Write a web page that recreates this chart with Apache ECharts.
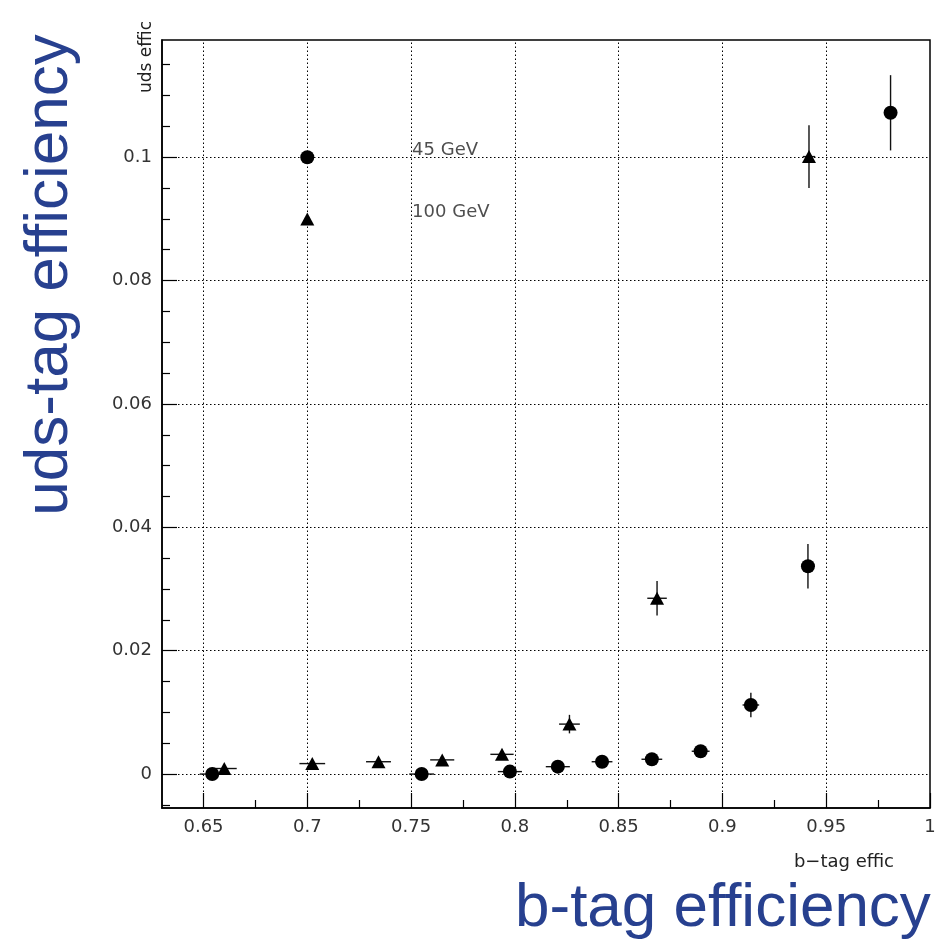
<!DOCTYPE html>
<html><head><meta charset="utf-8">
<script src="https://cdn.jsdelivr.net/npm/echarts@6/dist/echarts.min.js"></script>
<style>html,body{margin:0;padding:0;background:#fff}#c{width:943px;height:946px}</style>
</head><body><div id="c"></div>
<script>
// ---- axis ticks / grid ----
const xMajorTicks = [0.65, 0.7, 0.75, 0.8, 0.85, 0.9, 0.95, 1.0];
const xMinorTicks = [0.675, 0.725, 0.775, 0.825, 0.875, 0.925, 0.975];
const yMajorTicks = [0, 0.02, 0.04, 0.06, 0.08, 0.1];
const yMinorTicks = [-0.005, 0.005, 0.01, 0.015, 0.025, 0.03, 0.035, 0.045, 0.05, 0.055,
  0.065, 0.07, 0.075, 0.085, 0.09, 0.095, 0.105, 0.11, 0.115];
const xGridLines = [0.65, 0.7, 0.75, 0.8, 0.85, 0.9, 0.95];
const yGridLines = [0, 0.02, 0.04, 0.06, 0.08, 0.1];

// ---- 45 GeV (circles) ----
const circleX    = [0.6542, 0.7551, 0.7976, 0.8207, 0.8420, 0.8660, 0.8895, 0.9137, 0.9412, 0.9810];
const circleY    = [0.0000, 0.0000, 0.0004, 0.0012, 0.0020, 0.0024, 0.0037, 0.0112, 0.0337, 0.1072];
const circleXErr = [0.0060, 0.0060, 0.0058, 0.0058, 0.0050, 0.0050, 0.0043, 0.0040, 0.0030, 0.0030];
const circleYErr = [0.0002, 0.0002, 0.0003, 0.0004, 0.0005, 0.0006, 0.0008, 0.0020, 0.0036, 0.0061];

// ---- 100 GeV (triangles) ----
const triX    = [0.6600, 0.7024, 0.7343, 0.7650, 0.7938, 0.8263, 0.8685, 0.9417];
const triY    = [0.0009, 0.0017, 0.0020, 0.0023, 0.0032, 0.0081, 0.0285, 0.1001];
const triXErr = [0.0060, 0.0062, 0.0060, 0.0058, 0.0056, 0.0050, 0.0047, 0.0030];
const triYErr = [0.0003, 0.0004, 0.0004, 0.0005, 0.0006, 0.0015, 0.0028, 0.0051];

// ---- in-plot legend ----
const legendLabels = ['45 GeV', '100 GeV'];
const legendMarkerX = 0.7;
const legendMarkerY = [0.1, 0.09];
const legendTextX = 0.7505;
const legendTextY = [0.1011, 0.0910];

const xMin = 0.63, xMax = 1.0, yMin = -0.0055, yMax = 0.119;

const FONT = 'DejaVu Sans';
const TITLE_BLUE = '#27408f';

function zip4(a, b, c, d) { return a.map((v, i) => [v, b[i], c[i], d[i]]); }
function zip2(a, b) { return a.map((v, i) => [v, b[i]]); }

function errRender(params, api) {
  const x = api.value(0), y = api.value(1), xe = api.value(2), ye = api.value(3);
  const c = api.coord([x, y]);
  const l = api.coord([x - xe, y]), r = api.coord([x + xe, y]);
  const t = api.coord([x, y + ye]), b = api.coord([x, y - ye]);
  const st = { stroke: '#111', lineWidth: 1.4 };
  return { type: 'group', children: [
    { type: 'line', shape: { x1: l[0], y1: c[1], x2: r[0], y2: c[1] }, style: st },
    { type: 'line', shape: { x1: c[0], y1: t[1], x2: c[0], y2: b[1] }, style: st }
  ]};
}

const dotted = { color: '#000', width: 1, type: [1.5, 2.5] };

const chart = echarts.init(document.getElementById('c'), null, { renderer: 'canvas' });
chart.setOption({
  animation: false,
  backgroundColor: '#fff',
  grid: { left: 162, right: 13, top: 40, bottom: 138, show: true, borderColor: '#000', borderWidth: 1.5, backgroundColor: 'transparent' },
  xAxis: [
    { type: 'value', min: xMin, max: xMax, gridIndex: 0, position: 'bottom',
      axisLine: { show: true, onZero: false, lineStyle: { color: '#000', width: 1.5 } },
      axisTick: { show: true, inside: true, length: 15, customValues: xMajorTicks, lineStyle: { color: '#000', width: 1.2 } },
      axisLabel: { show: true, customValues: xMajorTicks, margin: 10, fontFamily: FONT, fontSize: 18, color: '#333' },
      splitLine: { show: false } },
    { type: 'value', min: xMin, max: xMax, gridIndex: 0, position: 'bottom',
      axisLine: { show: false, onZero: false },
      axisTick: { show: true, inside: true, length: 8, customValues: xMinorTicks, lineStyle: { color: '#000', width: 1.2 } },
      axisLabel: { show: false },
      splitLine: { show: false } }
  ],
  yAxis: [
    { type: 'value', min: yMin, max: yMax, gridIndex: 0, position: 'left',
      axisLine: { show: true, onZero: false, lineStyle: { color: '#000', width: 1.5 } },
      axisTick: { show: true, inside: true, length: 15, customValues: yMajorTicks, lineStyle: { color: '#000', width: 1.2 } },
      axisLabel: { show: true, customValues: yMajorTicks, margin: 10, fontFamily: FONT, fontSize: 18, color: '#333' },
      splitLine: { show: false } },
    { type: 'value', min: yMin, max: yMax, gridIndex: 0, position: 'left',
      axisLine: { show: false, onZero: false },
      axisTick: { show: true, inside: true, length: 8, customValues: yMinorTicks, lineStyle: { color: '#000', width: 1.2 } },
      axisLabel: { show: false },
      splitLine: { show: false } }
  ],
  series: [
    { type: 'scatter', name: 'grid', data: [], silent: true, z: 1,
      markLine: { silent: true, symbol: 'none', label: { show: false }, lineStyle: dotted, animation: false,
        data: xGridLines.map(v => ({ xAxis: v })).concat(yGridLines.map(v => ({ yAxis: v }))) } },
    { type: 'custom', name: '45 GeV err', renderItem: errRender, data: zip4(circleX, circleY, circleXErr, circleYErr),
      encode: { x: 0, y: 1 }, z: 3, silent: true },
    { type: 'custom', name: '100 GeV err', renderItem: errRender, data: zip4(triX, triY, triXErr, triYErr),
      encode: { x: 0, y: 1 }, z: 3, silent: true },
    { type: 'scatter', name: '45 GeV', data: zip2(circleX, circleY), symbol: 'circle', symbolSize: 14,
      itemStyle: { color: '#000', opacity: 1 }, z: 5 },
    { type: 'scatter', name: '100 GeV', data: zip2(triX, triY), symbol: 'triangle', symbolSize: [14, 13],
      itemStyle: { color: '#000', opacity: 1 }, z: 5 },
    { type: 'scatter', name: 'legend markers', silent: true, z: 5,
      data: [
        { value: [legendMarkerX, legendMarkerY[0]], symbol: 'circle', symbolSize: 14 },
        { value: [legendMarkerX, legendMarkerY[1]], symbol: 'triangle', symbolSize: [14, 13] }
      ], itemStyle: { color: '#000', opacity: 1 } },
    { type: 'scatter', name: 'legend text', silent: true, z: 6, symbolSize: 0,
      data: legendLabels.map((t, i) => ({ value: [legendTextX, legendTextY[i]], name: t })),
      label: { show: true, position: 'right', distance: 0, formatter: p => p.name,
        fontFamily: FONT, fontSize: 18, color: '#222' } }
  ],
  graphic: [
    { type: 'text', x: 515, y: 909, style: { text: 'b-tag efficiency', font: '62px "Liberation Sans"', fill: TITLE_BLUE, textAlign: 'left', textVerticalAlign: 'middle' } },
    { type: 'text', x: 50, y: 275, rotation: Math.PI / 2, style: { text: 'uds-tag efficiency', font: '62px "Liberation Sans"', fill: TITLE_BLUE, textAlign: 'center', textVerticalAlign: 'middle' } },
    { type: 'text', x: 894, y: 862, style: { text: 'b\u2212tag effic', font: '18px "DejaVu Sans"', fill: '#222', textAlign: 'right', textVerticalAlign: 'middle' } },
    { type: 'text', x: 147, y: 93, rotation: Math.PI / 2, style: { text: 'uds effic', font: '17px "DejaVu Sans"', fill: '#222', textAlign: 'left', textVerticalAlign: 'middle' } }
  ]
});
</script>
</body></html>
